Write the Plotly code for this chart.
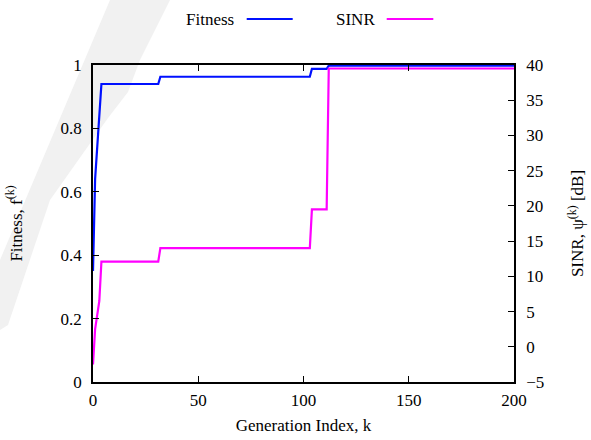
import plotly.graph_objects as go

# Data
generation = [0, 1, 2, 3, 4, 31, 32, 103, 104, 111, 112, 200]
fitness = [0.35, 0.64, 0.74, 0.84, 0.94, 0.94, 0.963, 0.963, 0.988, 0.988, 0.998, 0.998]
sinr_db = [-2.5, 2.5, 4.5, 6.5, 12.1, 12.1, 14.0, 14.0, 19.5, 19.5, 39.5, 39.5]

x_ticks = [0, 50, 100, 150, 200]
y_ticks = [0, 0.2, 0.4, 0.6, 0.8, 1]
y_tick_text = ["0", "0.2", "0.4", "0.6", "0.8", "1"]
y2_ticks = [-5, 0, 5, 10, 15, 20, 25, 30, 35, 40]

FONT = "Liberation Serif"
FS = 17
W, H = 591, 440
L, R, T, B = 93, 77, 65, 58
PW, PH = W - L - R, H - T - B


def px(x):
    return (x - L) / PW


def py(y):
    return (H - B - y) / PH


fig = go.Figure()
fig.add_trace(go.Scatter(x=generation, y=fitness, mode="lines", name="Fitness",
                         line=dict(color="#0010ff", width=2.2), yaxis="y"))
fig.add_trace(go.Scatter(x=generation, y=sinr_db, mode="lines", name="SINR",
                         line=dict(color="#ff00ff", width=2.2), yaxis="y2"))

# faint watermark band in the upper-left background
band = [(110, 0), (170, 0), (140, 60), (128, 92), (108, 118), (50, 200), (8, 325), (0, 330), (0, 260)]
path = "M " + " L ".join(f"{px(a):.4f},{py(b):.4f}" for a, b in band) + " Z"
fig.add_shape(type="path", path=path, xref="paper", yref="paper",
              fillcolor="#f1f1f1", line=dict(width=0), layer="below")

# gnuplot-style legend: text then line sample
legend_items = [("Fitness", "#0010ff", 236, 246.7, 292.7), ("SINR", "#ff00ff", 377, 386.7, 433.3)]
for label, color, tx, lx0, lx1 in legend_items:
    fig.add_annotation(text=label, x=px(tx), y=py(19), xref="paper", yref="paper",
                       xanchor="right", yanchor="middle", showarrow=False,
                       font=dict(family=FONT, size=FS, color="black"))
    fig.add_shape(type="line", x0=px(lx0), x1=px(lx1), y0=py(19), y1=py(19),
                  xref="paper", yref="paper", line=dict(color=color, width=2))

axis_common = dict(showline=True, linecolor="black", linewidth=1.6, ticks="inside",
                   ticklen=6, tickcolor="black", tickwidth=1, showgrid=False, zeroline=False,
                   automargin=False,
                   tickfont=dict(family=FONT, size=FS, color="black"))

fig.update_layout(
    width=W, height=H,
    margin=dict(l=L, r=R, t=T, b=B),
    paper_bgcolor="white", plot_bgcolor="rgba(0,0,0,0)",
    showlegend=False,
    font=dict(family=FONT, size=FS, color="black"),
    xaxis=dict(range=[0, 200], tickvals=x_ticks, mirror="ticks", ticklabelstandoff=2,
               title=dict(text="Generation Index, k", font=dict(family=FONT, size=FS, color="black"), standoff=10),
               **axis_common),
    yaxis=dict(range=[0, 1], tickvals=y_ticks, ticktext=y_tick_text, ticklabelstandoff=6,
               title=dict(text="Fitness, f<sup>(k)</sup>", font=dict(family=FONT, size=FS, color="black"), standoff=34),
               **axis_common),
    yaxis2=dict(range=[-5, 40], tickvals=y2_ticks, overlaying="y", side="right", ticklabelstandoff=7,
                title=dict(text="SINR, ψ<sup>(k)</sup> [dB]", font=dict(family=FONT, size=FS, color="black"), standoff=28),
                **axis_common),
)

fig.write_html("out.html")
